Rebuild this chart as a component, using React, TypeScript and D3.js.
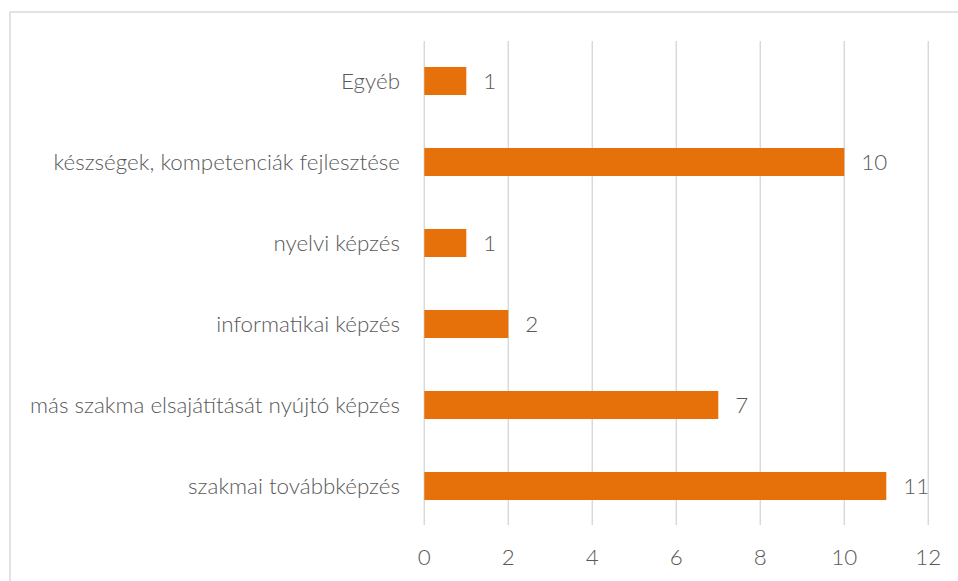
import React from "react";
import * as d3 from "d3";

const categories = [
  "Egyéb",
  "készségek, kompetenciák fejlesztése",
  "nyelvi képzés",
  "informatikai képzés",
  "más szakma elsajátítását nyújtó képzés",
  "szakmai továbbképzés",
];
const values = [1, 10, 1, 2, 7, 11];
const xTicks = [0, 2, 4, 6, 8, 10, 12];

const W = 958;
const H = 581;
const FONT = "Lato, 'Open Sans', sans-serif";
const TEXT = "#595959";
const FS = 22.4;

export default function App() {
  const x = d3.scaleLinear().domain([0, 12]).range([424.3, 928.3]);
  const y = d3.scaleBand<string>().domain(categories).range([40.5, 526.5]).paddingInner(0.654).paddingOuter(0.327);
  const plotTop = 41;
  const plotBottom = 525;
  return (
    <svg width={W} height={H} style={{ position: "absolute", left: 0, top: 0, background: "#fff" }}>
      <rect x={10} y={12} width={W + 10} height={H + 10} fill="#fff" stroke="#d9d9d9" strokeWidth={1.5} />
      {xTicks.map((t) => (
        <line key={"g" + t} x1={x(t)} x2={x(t)} y1={plotTop} y2={plotBottom} stroke="#d9d9d9" strokeWidth={1.5} />
      ))}
      {categories.map((c, i) => (
        <g key={c}>
          <rect x={x(0)} y={y(c)!} width={x(values[i]) - x(0)} height={y.bandwidth()} fill="#E6710A" />
          <text x={x(values[i]) + 17} y={y(c)! + y.bandwidth() / 2} dy="0.35em" fontFamily={FONT} fontWeight={300} fontSize={FS} fill={TEXT}>
            {values[i]}
          </text>
          <text x={400} y={y(c)! + y.bandwidth() / 2} dy="0.35em" textAnchor="end" fontFamily={FONT} fontWeight={300} fontSize={FS} fill={TEXT}>
            {c}
          </text>
        </g>
      ))}
      {xTicks.map((t) => (
        <text key={"t" + t} x={x(t)} y={565} textAnchor="middle" fontFamily={FONT} fontWeight={300} fontSize={FS} fill={TEXT}>
          {t}
        </text>
      ))}
    </svg>
  );
}
